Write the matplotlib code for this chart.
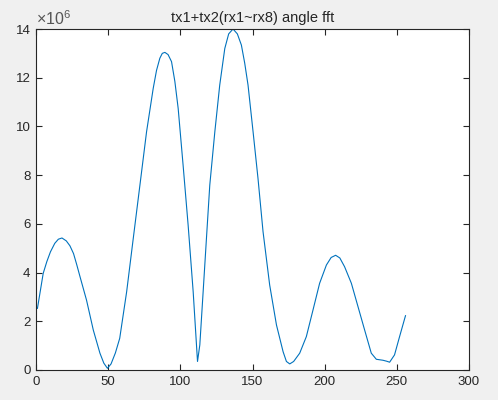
import matplotlib
matplotlib.use("Agg")
import matplotlib.pyplot as plt

# values (y in units of 1e6)
x = [1, 3, 5, 7.5, 10, 13, 15.5, 18, 21, 23.5, 26, 28.2, 30.5, 35, 39.7, 44.3, 47, 49.5,
     52, 55, 58, 62.8, 67.4, 72, 76.6, 81.2, 83.5, 85.8, 87.5, 89.3, 91.5, 93.9, 96.2, 98.5,
     101.9, 105.4, 108.9, 111.9, 113.5, 115.8, 118.1, 120.4, 123.9, 127.3, 130.8,
     133.5, 136.5, 139.5, 142.3, 144.6, 146.9, 150.4, 153.8, 157.3, 161.9, 166.6, 171.2,
     173.5, 175.8, 178.5, 182.7, 187.3, 191.9, 196.5, 201.2, 204.5, 207.6, 210.5,
     213.8, 218.5, 223.1, 227.7, 232.3, 235.8, 240.4, 243, 245, 248.4, 251.9, 256]
y = [2.53, 3.25, 3.97, 4.45, 4.85, 5.2, 5.37, 5.42, 5.3, 5.1, 4.78, 4.33, 3.83, 2.87, 1.64,
     0.69, 0.28, 0.07, 0.25, 0.7, 1.3, 3.21, 5.41, 7.59, 9.78, 11.56, 12.3, 12.8, 13.0,
     13.04, 12.95, 12.66, 11.85, 10.74, 8.42, 5.95, 3.21, 0.35, 1.03, 3.21, 5.41, 7.59,
     9.78, 11.7, 13.2, 13.8, 14.0, 13.8, 13.34, 12.6, 11.7, 9.78, 7.87, 5.68, 3.49, 1.85,
     0.75, 0.35, 0.25, 0.35, 0.69, 1.37, 2.46, 3.56, 4.31, 4.62, 4.71, 4.6, 4.24,
     3.56, 2.6, 1.64, 0.69, 0.44, 0.40, 0.36, 0.32, 0.62, 1.37, 2.23]

xticks = [0, 50, 100, 150, 200, 250, 300]
yticks = [0, 2, 4, 6, 8, 10, 12, 14]

plt.rcParams['font.family'] = ['Liberation Sans', 'DejaVu Sans']
plt.rcParams['mathtext.fontset'] = 'custom'
plt.rcParams['mathtext.rm'] = 'Liberation Sans'
plt.rcParams['mathtext.it'] = 'Liberation Sans'
dark = '#262626'

fig = plt.figure(figsize=(4.98, 4.00), dpi=100, facecolor='#f0f0f0')
ax = fig.add_axes([36 / 498, 30 / 400, 433 / 498, 341 / 400])
ax.plot(x, y, color='#0072bd', linewidth=0.8)

ax.set_xlim(0, 300)
ax.set_ylim(0, 14)
ax.set_xticks(xticks)
ax.set_yticks(yticks)
ax.tick_params(direction='in', length=4, width=0.8, colors=dark, labelsize=9.5,
               top=True, right=True, pad=4)
for s in ax.spines.values():
    s.set_color(dark)
    s.set_linewidth(0.8)

ax.set_title('tx1+tx2(rx1~rx8) angle fft', fontsize=10.5, color=dark, pad=5)
ax.text(0.0, 1.003, r'$\times 10^{6}$', transform=ax.transAxes, fontsize=11.5,
        color='#555555', ha='left', va='bottom')

fig.savefig('out.png', dpi=100, facecolor=fig.get_facecolor())
